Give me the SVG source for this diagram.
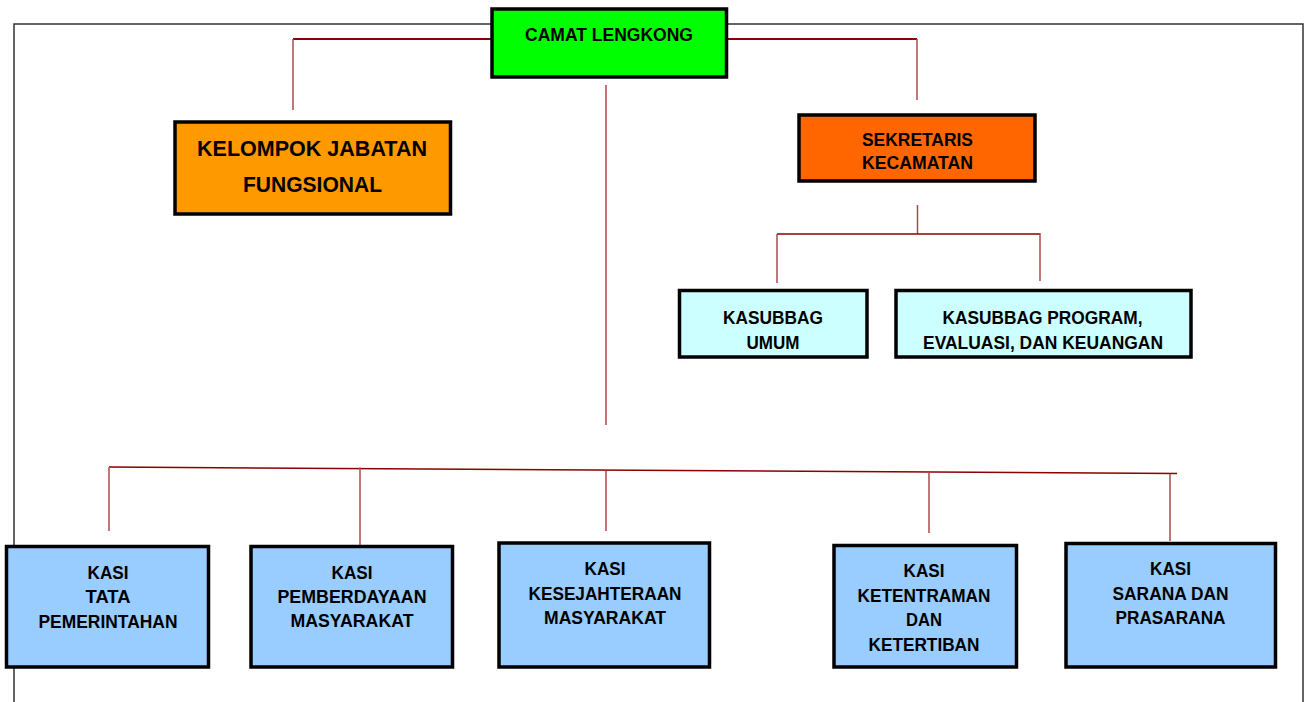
<svg xmlns="http://www.w3.org/2000/svg" width="1308" height="702" viewBox="0 0 1308 702">
<style>
.box{stroke:#000;stroke-width:3.5}
.t{font-family:"Liberation Sans",Arial,sans-serif;font-weight:bold;font-size:18.5px;fill:#000;text-anchor:middle}
.big{font-size:21.5px}
.h{stroke:#8b0000;stroke-width:2;fill:none}
.v{stroke:#b04848;stroke-width:1.5;fill:none}
.frame{fill:none;stroke:#333;stroke-width:1.5}
</style>
<rect width="1308" height="702" fill="#fff"/>
<path class="frame" d="M14 710 V24 H1303 V710"/>
<g id="connectors">
<path class="h" d="M293 39 H917"/>
<path class="v" d="M293 39 V110"/>
<path class="v" d="M917 39 V100"/>
<path class="v" d="M606 85 V425"/>
<path class="v" d="M917.5 205 V234"/>
<path class="h" style="stroke-width:1.5" d="M777 234 H1040"/>
<path class="v" d="M777 234 V283"/>
<path class="v" d="M1040 233 V281"/>
<path class="h" style="stroke-width:1.5" d="M109 467 L1177 473.5"/>
<path class="v" d="M109 467 V531"/>
<path class="v" d="M360 467.5 V545"/>
<path class="v" d="M606 471 V531"/>
<path class="v" d="M929 473 V533"/>
<path class="v" d="M1170 474 V541"/>
</g>
<g id="camat">
<rect class="box" x="492" y="9" width="234.5" height="68" fill="#00ff00"/>
<text class="t" x="609" y="40.5" textLength="168" lengthAdjust="spacingAndGlyphs">CAMAT LENGKONG</text>
</g>
<g id="kelompok">
<rect class="box" x="175" y="122" width="275.5" height="92" fill="#ff9900"/>
<text class="t big" x="312" y="155.5" textLength="230" lengthAdjust="spacingAndGlyphs">KELOMPOK JABATAN</text>
<text class="t big" x="312.5" y="191.5" textLength="139" lengthAdjust="spacingAndGlyphs">FUNGSIONAL</text>
</g>
<g id="sekretaris">
<rect class="box" x="799" y="115" width="236" height="66" fill="#ff6600"/>
<text class="t" x="917.5" y="146" textLength="111" lengthAdjust="spacingAndGlyphs">SEKRETARIS</text>
<text class="t" x="917.5" y="169" textLength="111" lengthAdjust="spacingAndGlyphs">KECAMATAN</text>
</g>
<g id="kasubbag-umum">
<rect class="box" x="679.5" y="290.5" width="187.5" height="66.5" fill="#ccffff"/>
<text class="t" x="773" y="324" textLength="100" lengthAdjust="spacingAndGlyphs">KASUBBAG</text>
<text class="t" x="773" y="349" textLength="53" lengthAdjust="spacingAndGlyphs">UMUM</text>
</g>
<g id="kasubbag-program">
<rect class="box" x="896" y="290.5" width="295" height="66.5" fill="#ccffff"/>
<text class="t" x="1042.5" y="324" textLength="200" lengthAdjust="spacingAndGlyphs">KASUBBAG PROGRAM,</text>
<text class="t" x="1043" y="349" textLength="240" lengthAdjust="spacingAndGlyphs">EVALUASI, DAN KEUANGAN</text>
</g>
<g id="kasi-tata">
<rect class="box" x="6.5" y="546.5" width="202" height="120.5" fill="#99ccff"/>
<text class="t" x="108" y="579" textLength="41" lengthAdjust="spacingAndGlyphs">KASI</text>
<text class="t" x="108" y="603" textLength="45" lengthAdjust="spacingAndGlyphs">TATA</text>
<text class="t" x="108" y="628" textLength="139" lengthAdjust="spacingAndGlyphs">PEMERINTAHAN</text>
</g>
<g id="kasi-pemberdayaan">
<rect class="box" x="251" y="546.5" width="201.5" height="120.5" fill="#99ccff"/>
<text class="t" x="352" y="579" textLength="41" lengthAdjust="spacingAndGlyphs">KASI</text>
<text class="t" x="352" y="603" textLength="149" lengthAdjust="spacingAndGlyphs">PEMBERDAYAAN</text>
<text class="t" x="352" y="627" textLength="123" lengthAdjust="spacingAndGlyphs">MASYARAKAT</text>
</g>
<g id="kasi-kesejahteraan">
<rect class="box" x="499" y="543" width="210.5" height="124" fill="#99ccff"/>
<text class="t" x="605" y="575" textLength="41" lengthAdjust="spacingAndGlyphs">KASI</text>
<text class="t" x="605" y="600" textLength="153" lengthAdjust="spacingAndGlyphs">KESEJAHTERAAN</text>
<text class="t" x="605" y="624" textLength="122" lengthAdjust="spacingAndGlyphs">MASYARAKAT</text>
</g>
<g id="kasi-ketentraman">
<rect class="box" x="834" y="545.5" width="182.5" height="121.5" fill="#99ccff"/>
<text class="t" x="924" y="577" textLength="41" lengthAdjust="spacingAndGlyphs">KASI</text>
<text class="t" x="924" y="602" textLength="133" lengthAdjust="spacingAndGlyphs">KETENTRAMAN</text>
<text class="t" x="924" y="626" textLength="36" lengthAdjust="spacingAndGlyphs">DAN</text>
<text class="t" x="924" y="651" textLength="111" lengthAdjust="spacingAndGlyphs">KETERTIBAN</text>
</g>
<g id="kasi-sarana">
<rect class="box" x="1066" y="543.5" width="209.5" height="123.5" fill="#99ccff"/>
<text class="t" x="1170.5" y="575" textLength="41" lengthAdjust="spacingAndGlyphs">KASI</text>
<text class="t" x="1170.5" y="600" textLength="116" lengthAdjust="spacingAndGlyphs">SARANA DAN</text>
<text class="t" x="1170.5" y="624" textLength="110" lengthAdjust="spacingAndGlyphs">PRASARANA</text>
</g>
</svg>
